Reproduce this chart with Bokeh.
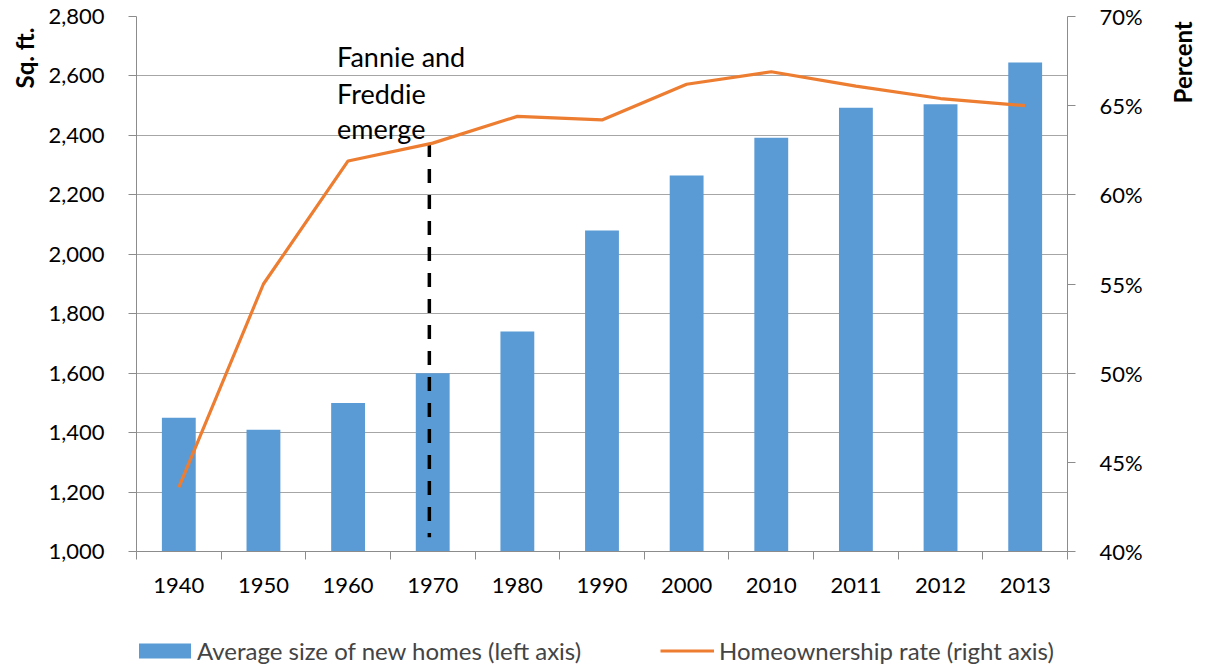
import math
from bokeh.plotting import figure
from bokeh.layouts import column
from bokeh.models import (Range1d, LinearAxis, FixedTicker, NumeralTickFormatter,
                          PrintfTickFormatter, Legend, LegendItem, ColumnDataSource, Title)
from bokeh.core.properties import value
from bokeh.embed import file_html
from bokeh.resources import INLINE

# ---- data ----
years = ["1940", "1950", "1960", "1970", "1980", "1990", "2000", "2010", "2011", "2012", "2013"]
avg_size = [1450, 1410, 1500, 1600, 1740, 2080, 2265, 2392, 2493, 2505, 2645]
ownership = [43.6, 55.0, 61.9, 62.9, 64.4, 64.2, 66.2, 66.9, 66.1, 65.4, 65.0]
left_ticks = [1000, 1200, 1400, 1600, 1800, 2000, 2200, 2400, 2600, 2800]
right_ticks = [40, 45, 50, 55, 60, 65, 70]
note_lines = ["Fannie and", "Freddie", "emerge"]
left_title = "Sq. ft."
right_title = "Percent"
legend_labels = ["Average size of new homes (left axis)", "Homeownership rate (right axis)"]

FONT = "Lato"
BLUE = "#5B9BD5"
ORANGE = "#ED7D31"
GRID = "#A6A6A6"
AXIS = "#8C8C8C"

xs = [i + 0.5 for i in range(len(years))]
src = ColumnDataSource(dict(x=xs, size=avg_size, own=ownership, year=years))

p = figure(width=1214, height=604, output_backend="svg", toolbar_location=None,
           x_range=Range1d(0, len(years)), y_range=Range1d(1000, 2800),
           min_border_left=135, min_border_right=147, min_border_top=16,
           min_border_bottom=53)
p.extra_y_ranges = {"pct": Range1d(40, 70)}
p.outline_line_color = None
p.background_fill_color = "white"
p.border_fill_color = "white"

# x axis
xa = p.xaxis[0]
xa.ticker = FixedTicker(ticks=xs, minor_ticks=list(range(len(years) + 1)))
xa.major_label_overrides = {x: y for x, y in zip(xs, years)}
xa.major_tick_line_color = None
xa.major_tick_out = 0
xa.major_tick_in = 0
xa.minor_tick_in = 0
xa.minor_tick_out = 8
xa.minor_tick_line_color = AXIS
xa.axis_line_color = AXIS
xa.major_label_standoff = 18
xa.major_label_text_font = FONT
xa.major_label_text_font_size = "22px"
xa.major_label_text_color = "black"

# left axis
ya = p.yaxis[0]
ya.ticker = FixedTicker(ticks=left_ticks)
ya.formatter = NumeralTickFormatter(format="0,0")
ya.major_tick_in = 0
ya.major_tick_out = 8
ya.minor_tick_line_color = None
ya.major_tick_line_color = AXIS
ya.axis_line_color = AXIS
ya.major_label_standoff = 24
ya.major_label_text_font = FONT
ya.major_label_text_font_size = "22px"
ya.major_label_text_color = "black"

p.add_layout(Title(text=left_title, align="right", offset=11, standoff=14,
                   vertical_align="bottom", text_font=FONT, text_font_size="24px",
                   text_font_style="bold", text_color="black"), "left")

# right axis
ra = LinearAxis(y_range_name="pct", ticker=FixedTicker(ticks=right_ticks),
                formatter=PrintfTickFormatter(format="%d%%"))
ra.major_tick_in = 0
ra.major_tick_out = 8
ra.minor_tick_line_color = None
ra.major_tick_line_color = AXIS
ra.axis_line_color = AXIS
ra.major_label_standoff = 24
ra.major_label_text_font = FONT
ra.major_label_text_font_size = "22px"
ra.major_label_text_color = "black"
p.add_layout(ra, "right")

rt_pos = 67.45
rt = LinearAxis(y_range_name="pct", ticker=FixedTicker(ticks=[rt_pos]),
                major_label_overrides={rt_pos: right_title})
rt.axis_line_color = None
rt.major_tick_line_color = None
rt.minor_tick_line_color = None
rt.major_tick_in = 0
rt.major_tick_out = 0
rt.major_label_orientation = math.pi / 2
rt.major_label_standoff = 37
rt.major_label_text_font = FONT
rt.major_label_text_font_size = "24px"
rt.major_label_text_font_style = "bold"
rt.major_label_text_color = "black"
p.add_layout(rt, "right")

p.xgrid.visible = False
p.ygrid.ticker = FixedTicker(ticks=left_ticks)
p.ygrid.grid_line_color = GRID
p.ygrid.grid_line_width = 1

bars = p.vbar(x="x", top="size", bottom=1000, width=0.4, source=src,
              fill_color=BLUE, line_color=None)

# dashed annotation line
p.segment(x0=[3.46], y0=[62.9], x1=[3.46], y1=[40.8], y_range_name="pct",
          line_color="black", line_width=3.5, line_dash="14 12")

line = p.line(x="x", y="own", source=src, y_range_name="pct",
              line_color=ORANGE, line_width=3.2)

p.text(x=[2.37, 2.37, 2.37], y=[2666, 2541, 2424], text=note_lines,
       text_font=value(FONT), text_font_size="27px", text_color="black",
       text_baseline="alphabetic", text_align="left")

# ---- legend strip below (proxy renderers lie outside its ranges; only legend glyphs show) ----
lg = figure(width=1214, height=64, output_backend="svg", toolbar_location=None,
            x_range=Range1d(1000, 1001), y_range=Range1d(5000, 5001), min_border=0)
lg.axis.visible = False
lg.grid.visible = False
lg.outline_line_color = None
lg.border_fill_color = "white"
r_bar = lg.vbar(x="x", top="size", bottom=1000, width=0.4, source=src,
                fill_color=BLUE, line_color=None)
r_line = lg.line(x="x", y="own", source=src, line_color=ORANGE, line_width=3.2)

common = dict(padding=0, margin=0, border_line_color=None, background_fill_alpha=0,
              label_text_font=FONT, label_text_font_size="24px", label_height=20)
leg1 = Legend(items=[LegendItem(label=legend_labels[0], renderers=[r_bar])],
              location=(-4, 3), glyph_width=65, glyph_height=19, label_standoff=0, **common)
leg2 = Legend(items=[LegendItem(label=legend_labels[1], renderers=[r_line])],
              location=(524, 3), glyph_width=54, glyph_height=19, label_standoff=5, **common)
lg.add_layout(leg1, "center")
lg.add_layout(leg2, "center")

open("out.html", "w").write(file_html(column(p, lg), INLINE))
